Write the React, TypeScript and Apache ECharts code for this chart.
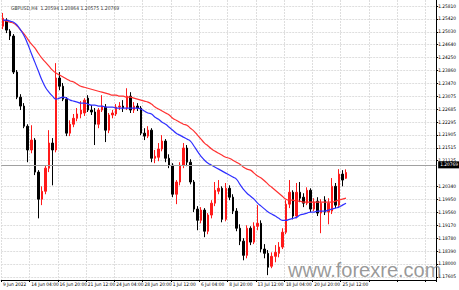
import React, { useEffect, useRef } from "react";
import * as echarts from "echarts";

const title = "GBPUSD,H4  1.20594 1.20864 1.20575 1.20769";
const lastPrice = 1.20769;

const xLabels = [
  "9 Jun 2022", "14 Jun 04:00", "16 Jun 20:00", "21 Jun 12:00", "24 Jun 04:00",
  "28 Jun 20:00", "1 Jul 12:00", "6 Jul 04:00", "8 Jul 20:00", "13 Jul 12:00",
  "18 Jul 04:00", "20 Jul 20:00", "25 Jul 12:00",
];

const yTicks = [
  1.2581, 1.2542, 1.2503, 1.2464, 1.2425, 1.2386, 1.2347, 1.23075, 1.22685,
  1.22295, 1.21905, 1.21515, 1.21125, 1.2034, 1.1995, 1.1956, 1.1917, 1.1878,
  1.1839, 1.18, 1.17605,
];

const opens = [
  1.2520, 1.2538, 1.2505, 1.2490, 1.2381, 1.2305, 1.2278, 1.2217, 1.2145, 1.2175,
  1.2078, 1.1996, 1.2020, 1.2090, 1.2166, 1.2145, 1.2363, 1.2338, 1.2299, 1.2196,
  1.2223, 1.2241, 1.2254, 1.2257, 1.2302, 1.2266, 1.2260, 1.2223, 1.2266, 1.2275,
  1.2205, 1.2251, 1.2254, 1.2275, 1.2278, 1.2272, 1.2308, 1.2266, 1.2278, 1.2272,
  1.2196, 1.2187, 1.2205, 1.2120, 1.2123, 1.2148, 1.2172, 1.2120, 1.2099, 1.2011,
  1.2048, 1.2099, 1.2151, 1.2108, 1.2048, 1.1966, 1.1932, 1.1963, 1.1899, 1.1948,
  1.1984, 1.2020, 1.2029, 1.1935, 1.2029, 1.2002, 1.1960, 1.1908, 1.1869, 1.1826,
  1.1908, 1.1866, 1.1914, 1.1923, 1.1845, 1.1832, 1.1793, 1.1823, 1.1832, 1.1851,
  1.1896, 1.1981, 1.2017, 1.1945, 1.2017, 1.2002, 1.1984, 1.2023, 1.1966, 1.1990,
  1.1954, 1.1993, 1.1957, 1.1960, 1.2035, 1.1978, 1.2072, 1.20594,
];
const closes = [
  1.2544, 1.2508, 1.2490, 1.2381, 1.2305, 1.2278, 1.2217, 1.2145, 1.2175, 1.2078,
  1.1996, 1.2020, 1.2090, 1.2166, 1.2145, 1.2363, 1.2338, 1.2299, 1.2196, 1.2223,
  1.2241, 1.2254, 1.2266, 1.2296, 1.2266, 1.2260, 1.2223, 1.2266, 1.2278, 1.2205,
  1.2251, 1.2257, 1.2275, 1.2278, 1.2272, 1.2308, 1.2266, 1.2278, 1.2272, 1.2196,
  1.2187, 1.2205, 1.2120, 1.2126, 1.2148, 1.2172, 1.2120, 1.2099, 1.2011, 1.2048,
  1.2099, 1.2151, 1.2108, 1.2048, 1.1966, 1.1932, 1.1963, 1.1899, 1.1948, 1.1984,
  1.2023, 1.2029, 1.1935, 1.2029, 1.2002, 1.1960, 1.1908, 1.1869, 1.1826, 1.1908,
  1.1866, 1.1914, 1.1923, 1.1845, 1.1832, 1.1790, 1.1823, 1.1835, 1.1851, 1.1896,
  1.1981, 1.2017, 1.1945, 1.2017, 1.1999, 1.1984, 1.2023, 1.1966, 1.1987, 1.1954,
  1.1984, 1.1957, 1.1984, 1.2035, 1.1978, 1.2072, 1.2054, 1.20769,
];
const highs = [
  1.2560, 1.2544, 1.2511, 1.2496, 1.2387, 1.2314, 1.2287, 1.2223, 1.2220, 1.2181,
  1.2084, 1.2035, 1.2099, 1.2205, 1.2181, 1.2408, 1.2381, 1.2348, 1.2305, 1.2235,
  1.2254, 1.2272, 1.2293, 1.2302, 1.2311, 1.2281, 1.2272, 1.2272, 1.2311, 1.2284,
  1.2257, 1.2266, 1.2284, 1.2290, 1.2296, 1.2332, 1.2320, 1.2290, 1.2287, 1.2278,
  1.2211, 1.2217, 1.2211, 1.2145, 1.2166, 1.2190, 1.2178, 1.2132, 1.2105, 1.2054,
  1.2108, 1.2166, 1.2160, 1.2117, 1.2054, 1.1975, 1.1972, 1.1969, 1.1954, 1.1993,
  1.2048, 1.2054, 1.2035, 1.2045, 1.2038, 1.2011, 1.1969, 1.1920, 1.1878, 1.1917,
  1.1914, 1.1926, 1.1978, 1.1932, 1.1860, 1.1842, 1.1835, 1.1857, 1.1866, 1.1908,
  1.1993, 1.2054, 1.2023, 1.2045, 1.2048, 1.2014, 1.2032, 1.2029, 1.1999, 1.2002,
  1.1996, 1.2005, 1.1999, 1.2060, 1.2045, 1.2087, 1.2084, 1.20864,
];
const lows = [
  1.2511, 1.2499, 1.2478, 1.2375, 1.2299, 1.2266, 1.2211, 1.2108, 1.2135, 1.2069,
  1.1938, 1.1978, 1.2011, 1.2078, 1.2038, 1.2138, 1.2326, 1.2293, 1.2187, 1.2187,
  1.2214, 1.2232, 1.2241, 1.2248, 1.2260, 1.2251, 1.2160, 1.2211, 1.2260, 1.2169,
  1.2196, 1.2241, 1.2248, 1.2266, 1.2260, 1.2266, 1.2257, 1.2257, 1.2263, 1.2190,
  1.2175, 1.2181, 1.2108, 1.2105, 1.2111, 1.2141, 1.2108, 1.2090, 1.2002, 1.1981,
  1.2038, 1.2090, 1.2096, 1.2041, 1.1957, 1.1902, 1.1923, 1.1881, 1.1890, 1.1938,
  1.1975, 1.2011, 1.1926, 1.1929, 1.1993, 1.1951, 1.1899, 1.1857, 1.1811, 1.1817,
  1.1857, 1.1860, 1.1902, 1.1835, 1.1817, 1.1766, 1.1787, 1.1805, 1.1820, 1.1845,
  1.1890, 1.1969, 1.1935, 1.1938, 1.1987, 1.1972, 1.1978, 1.1957, 1.1960, 1.1945,
  1.1893, 1.1948, 1.1920, 1.1951, 1.1969, 1.1972, 1.2035, 1.20575,
];

const maFast = [
  1.2538, 1.2538, 1.2535, 1.2532, 1.2523, 1.2508, 1.2490, 1.2466, 1.2438, 1.2411,
  1.2384, 1.2357, 1.2335, 1.2320, 1.2308, 1.2299, 1.2302, 1.2305, 1.2302, 1.2296,
  1.2293, 1.2290, 1.2287, 1.2287, 1.2284, 1.2281, 1.2281, 1.2278, 1.2278, 1.2275,
  1.2275, 1.2275, 1.2272, 1.2272, 1.2272, 1.2272, 1.2272, 1.2272, 1.2272, 1.2269,
  1.2263, 1.2257, 1.2254, 1.2244, 1.2238, 1.2229, 1.2223, 1.2214, 1.2205, 1.2196,
  1.2190, 1.2184, 1.2178, 1.2172, 1.2157, 1.2141, 1.2126, 1.2114, 1.2105, 1.2099,
  1.2093, 1.2087, 1.2081, 1.2075, 1.2069, 1.2063, 1.2057, 1.2041, 1.2026, 1.2014,
  1.2005, 1.1996, 1.1984, 1.1975, 1.1966, 1.1957, 1.1951, 1.1945, 1.1938, 1.1932,
  1.1932, 1.1935, 1.1938, 1.1941, 1.1948, 1.1951, 1.1954, 1.1957, 1.1957, 1.1960,
  1.1960, 1.1960, 1.1963, 1.1966, 1.1969, 1.1972, 1.1978, 1.1984,
];
const maSlow = [
  1.2538, 1.2535, 1.2532, 1.2529, 1.2520, 1.2508, 1.2496, 1.2481, 1.2466, 1.2454,
  1.2438, 1.2423, 1.2411, 1.2399, 1.2387, 1.2378, 1.2372, 1.2366, 1.2360, 1.2354,
  1.2351, 1.2344, 1.2338, 1.2335, 1.2332, 1.2329, 1.2326, 1.2323, 1.2320, 1.2317,
  1.2314, 1.2311, 1.2311, 1.2308, 1.2308, 1.2305, 1.2305, 1.2302, 1.2299, 1.2296,
  1.2293, 1.2290, 1.2284, 1.2275, 1.2269, 1.2263, 1.2257, 1.2251, 1.2241, 1.2235,
  1.2229, 1.2223, 1.2220, 1.2211, 1.2202, 1.2190, 1.2178, 1.2166, 1.2157, 1.2148,
  1.2141, 1.2135, 1.2129, 1.2123, 1.2120, 1.2114, 1.2108, 1.2102, 1.2093, 1.2087,
  1.2084, 1.2075, 1.2066, 1.2060, 1.2051, 1.2041, 1.2032, 1.2023, 1.2014, 1.2005,
  1.1996, 1.1993, 1.1993, 1.1990, 1.1990, 1.1987, 1.1987, 1.1987, 1.1987, 1.1987,
  1.1987, 1.1987, 1.1987, 1.1987, 1.1990, 1.1993, 1.1996, 1.1999,
];

const CATEGORY_COUNT = 123;
const LABEL_STEP = 8;

export default function App() {
  const ref = useRef<HTMLDivElement>(null);

  useEffect(() => {
    document.body.style.margin = "0";
    if (!ref.current) return;
    const chart = echarts.init(ref.current, null, { renderer: "svg" });

    const categories: string[] = [];
    for (let i = 0; i < CATEGORY_COUNT; i++) {
      const k = i / LABEL_STEP;
      categories.push(i % LABEL_STEP === 0 && k < xLabels.length ? xLabels[k] : "");
    }
    const candles = opens.map((o, i) => [o, closes[i], lows[i], highs[i]]);
    const font = "'Liberation Sans Narrow', 'DejaVu Sans Condensed', 'Liberation Sans'";

    chart.setOption({
      animation: false,
      backgroundColor: "#ffffff",
      title: {
        text: title,
        left: 6,
        top: 0,
        textStyle: { fontSize: 5, fontWeight: "normal", color: "#333", fontFamily: font },
      },
      grid: { left: 0, right: 21, top: 0, bottom: 10 },
      xAxis: {
        type: "category",
        data: categories,
        boundaryGap: true,
        axisLine: { show: true, lineStyle: { color: "#000", width: 1 } },
        axisTick: { show: true, interval: LABEL_STEP - 1, length: 2, lineStyle: { color: "#000" } },
        axisLabel: {
          interval: LABEL_STEP - 1,
          fontSize: 4.8,
          color: "#000",
          fontFamily: font,
          align: "left",
          margin: 2,
        },
        splitLine: {
          show: true,
          interval: LABEL_STEP - 1,
          lineStyle: { color: "#dedede", width: 1, type: [2, 1] },
        },
      },
      yAxis: {
        type: "value",
        position: "right",
        min: 1.17513,
        max: 1.25992,
        axisLine: { show: true, lineStyle: { color: "#000", width: 1 } },
        axisTick: { show: true, length: 2, customValues: yTicks, lineStyle: { color: "#000" } },
        axisLabel: {
          customValues: yTicks,
          fontSize: 4.8,
          color: "#000",
          fontFamily: font,
          margin: 2,
          formatter: (v: number) => v.toFixed(5),
        },
        splitLine: { show: true, lineStyle: { color: "#dedede", width: 1, type: [2, 1] } },
      },
      series: [
        {
          type: "candlestick",
          data: candles,
          barWidth: 2,
          itemStyle: {
            color: "#ff1a1a",
            color0: "#000000",
            borderColor: "#ff1a1a",
            borderColor0: "#000000",
            borderWidth: 1,
          },
          markLine: {
            silent: true,
            symbol: ["none", "none"],
            data: [{ yAxis: lastPrice }],
            lineStyle: { color: "#a0a0a0", width: 1, type: "solid" },
            label: {
              show: true,
              position: "end",
              formatter: () => lastPrice.toFixed(5),
              backgroundColor: "#000",
              color: "#fff",
              fontSize: 4.8,
              fontFamily: font,
              padding: [1, 2],
              distance: 2,
            },
          },
        },
        {
          type: "line",
          data: maSlow,
          showSymbol: false,
          smooth: true,
          lineStyle: { color: "#ff3030", width: 1.2 },
          z: 3,
        },
        {
          type: "line",
          data: maFast,
          showSymbol: false,
          smooth: true,
          lineStyle: { color: "#3030ff", width: 1.2 },
          z: 3,
        },
      ],
      graphic: [
        {
          type: "text",
          left: 288,
          top: 260,
          z: 100,
          style: {
            text: "www.forexre.com",
            fontSize: 20,
            fontFamily: "Liberation Sans",
            fill: "rgba(120,120,120,0.75)",
          },
        },
      ],
    });

    return () => chart.dispose();
  }, []);

  return <div ref={ref} style={{ width: 459, height: 290 }} />;
}
